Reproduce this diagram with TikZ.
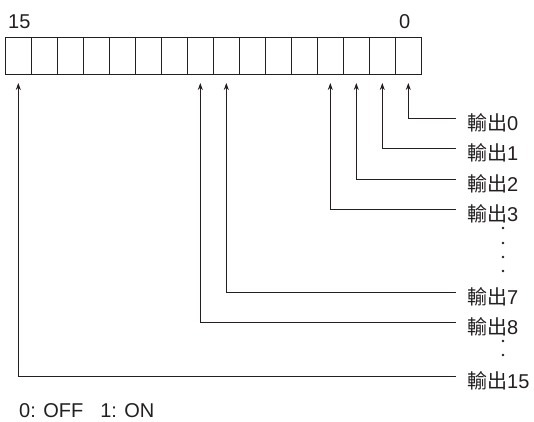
\documentclass[tikz,border=0pt]{standalone}
\usepackage{fontspec}
\setmainfont{Liberation Sans}
\newfontfamily\cjk{Noto Sans CJK TC}
\usetikzlibrary{arrows.meta}
\definecolor{ink}{HTML}{231F20}
\begin{document}
\begin{tikzpicture}[x=1pt,y=-1pt,
  font=\fontsize{20}{22}\selectfont,
  cell/.style={draw=ink, line width=0.9pt, minimum width=26pt, minimum height=37pt, inner sep=0pt, outer sep=0pt},
  lbl/.style={anchor=west, inner xsep=11pt, inner ysep=0pt, text height=24pt, text depth=0pt, text=ink},
  head/.style={anchor=base west, inner sep=0pt, text=ink},
  arr/.style={draw=ink, line width=0.8pt, -{Stealth[length=7pt,width=5pt]}},
  dot/.style={fill=ink}]
\useasboundingbox (0,0) rectangle (534,421);
% register cells (bit 0 at right)
\foreach \i in {0,...,15}
  \node[cell] (c\i) at ({421.3-(\i+0.5)*26},55.5) {};
% bit numbers
\node[head] (h15) at (8,28.3) {15};
\node[head] (h0) at (399,28.3) {0};
% output labels
\node[lbl] (o0) at (456,118) {{\cjk 輸出}0};
\node[lbl] (o1) at (456,148) {{\cjk 輸出}1};
\node[lbl] (o2) at (456,179) {{\cjk 輸出}2};
\node[lbl] (o3) at (456,209) {{\cjk 輸出}3};
\node[lbl] (o7) at (456,292) {{\cjk 輸出}7};
\node[lbl] (o8) at (456,322) {{\cjk 輸出}8};
\node[lbl] (o15) at (456,376) {{\cjk 輸出}15};
% connectors
\foreach \i in {0,1,2,3,7,8,15}
  \draw[arr] (o\i.west) -| ([yshift=-9pt]c\i.south);
% ellipsis dots
\foreach \y in {228,243,257,271,341,355}
  \fill[dot] (503,\y) circle (1.3pt);
% legend
\node[head] (legend) at (19,417.5) {0: OFF\hspace{17pt}1: ON};
\end{tikzpicture}
\end{document}
